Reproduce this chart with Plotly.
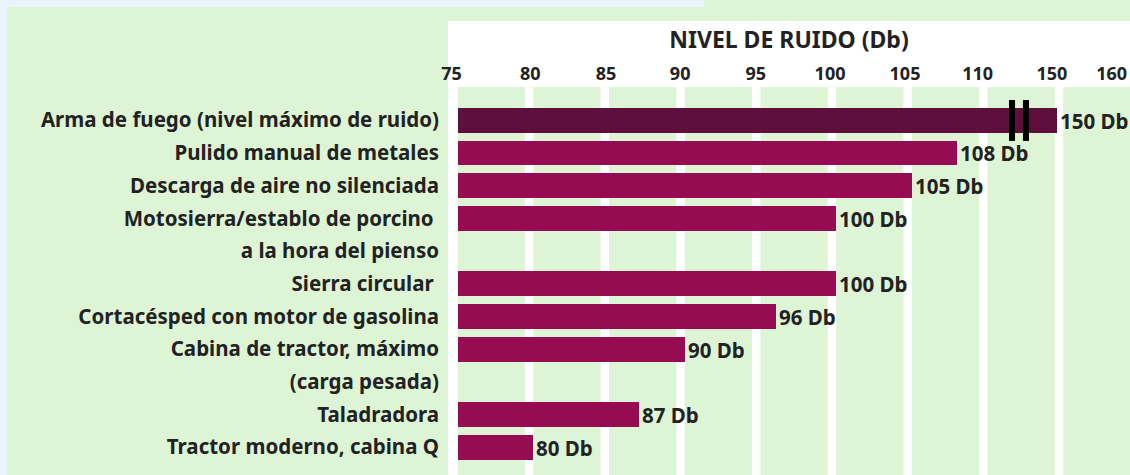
import plotly.graph_objects as go

# ---------------- data ----------------
category_lines = [
    ["Arma de fuego (nivel máximo de ruido)"],
    ["Pulido manual de metales"],
    ["Descarga de aire no silenciada"],
    ["Motosierra/establo de porcino\u00a0", "a la hora del pienso"],
    ["Sierra circular\u00a0"],
    ["Cortacésped con motor de gasolina"],
    ["Cabina de tractor, máximo", "(carga pesada)"],
    ["Taladradora"],
    ["Tractor moderno, cabina Q"],
]
noise_db = [150, 108, 105, 100, 100, 96, 90, 87, 80]
tick_labels = ["75", "80", "85", "90", "95", "100", "105", "110", "150", "160"]
axis_title = "NIVEL DE RUIDO (Db)"

# broken axis: 75..110 linear, then 150 and 160 squeezed into the last slot
def axis_pos(v):
    if v <= 110:
        return v
    return 114.6 + (v - 150) * 0.36

# rows (one row per text line)
rows, tick_rows, tick_text = [], [], []
r = 0
for lines in category_lines:
    rows.append(r)
    for ln in lines:
        tick_rows.append(r)
        tick_text.append(ln)
        r += 1
n_rows = r

FONT = "Noto Sans"
TXT = "#222222"
BAR = "#960b52"
BAR_DARK = "#5f0f3b"
GREEN = "#def5d5"
BLUE = "#eaf4fd"

# layout geometry (pixels)
W, H = 1130, 475
L, T = 448, 87
PW, PH = W - L, H - T
px_per_unit = 15.14
x0_val = 75 - (457.6 - L) / px_per_unit
x1_val = x0_val + PW / px_per_unit
row_pitch = 32.7
row0_center = 120.3
y_top = (T - row0_center) / row_pitch
y_bot = (H - row0_center) / row_pitch

def pxx(p):
    return (p - L) / PW

def pxy(p):
    return (H - p) / PH

base_val = 75
xvals = [axis_pos(v) - base_val for v in noise_db]
colors = [BAR_DARK] + [BAR] * (len(noise_db) - 1)

fig = go.Figure()
fig.add_trace(go.Bar(
    y=rows, x=xvals, base=base_val, orientation="h",
    marker=dict(color=colors, line=dict(width=0)),
    width=24.7 / row_pitch,
    text=[f"{v} Db" for v in noise_db],
    textposition="outside",
    constraintext="none",
    textfont=dict(family=FONT, size=20.5, color=TXT, weight="bold"),
    cliponaxis=False,
    hoverinfo="skip",
))

shapes = []
# light blue strips (paper bg is green)
shapes.append(dict(type="rect", xref="paper", yref="paper", layer="below",
                   x0=pxx(0), x1=pxx(704), y0=pxy(7), y1=pxy(0),
                   fillcolor=BLUE, line=dict(width=0)))
shapes.append(dict(type="rect", xref="paper", yref="paper", layer="below",
                   x0=pxx(0), x1=pxx(7), y0=pxy(H), y1=pxy(0),
                   fillcolor=BLUE, line=dict(width=0)))
# white panel
shapes.append(dict(type="rect", xref="paper", yref="paper", layer="below",
                   x0=0, x1=1, y0=0, y1=pxy(21),
                   fillcolor="white", line=dict(width=0)))
# green columns
for k in range(len(tick_labels) - 1):
    c0 = 75 + 5 * k
    c1 = c0 + 4.45 if k < len(tick_labels) - 2 else x1_val + 1
    shapes.append(dict(type="rect", xref="x", yref="paper", layer="below",
                       x0=c0, x1=c1, y0=0, y1=1,
                       fillcolor=GREEN, line=dict(width=0)))
# axis break marks on the first bar
for xm in (111.62, 112.54):
    shapes.append(dict(type="rect", xref="x", yref="y", layer="above",
                       x0=xm - 0.2, x1=xm + 0.2, y0=-0.62, y1=0.63,
                       fillcolor="black", line=dict(width=0)))

tick_offsets = [-0.4, -0.2, -0.2, -0.3, -0.3, -0.4, -0.45, -0.65, -0.35, 0.0]
tick_positions = [axis_pos(float(t)) + o for t, o in zip(tick_labels, tick_offsets)]

fig.update_layout(
    width=W, height=H,
    margin=dict(l=L, r=0, t=T, b=0, pad=0),
    paper_bgcolor=GREEN, plot_bgcolor="white",
    font=dict(family=FONT, color=TXT, weight="bold"),
    showlegend=False,
    shapes=shapes,
    bargap=0,
    xaxis=dict(
        side="top", range=[x0_val, x1_val],
        tickvals=tick_positions, ticktext=tick_labels,
        tickfont=dict(family=FONT, size=18, color=TXT, weight="bold"),
        ticks="", showgrid=False, zeroline=False, showline=False,
        ticklabelstandoff=2,
        title=dict(text=axis_title, standoff=6,
                   font=dict(family=FONT, size=23, color=TXT, weight="bold")),
        fixedrange=True,
    ),
    yaxis=dict(
        range=[y_bot, y_top],
        tickvals=tick_rows, ticktext=tick_text,
        tickfont=dict(family=FONT, size=20.5, color=TXT, weight="bold"),
        ticks="", showgrid=False, zeroline=False, showline=False,
        ticklabelstandoff=8,
        fixedrange=True,
    ),
)

fig.write_html(
    "out.html",
    config={"displayModeBar": False},
    post_script="document.body.style.margin='0';document.body.style.overflow='hidden';",
)
